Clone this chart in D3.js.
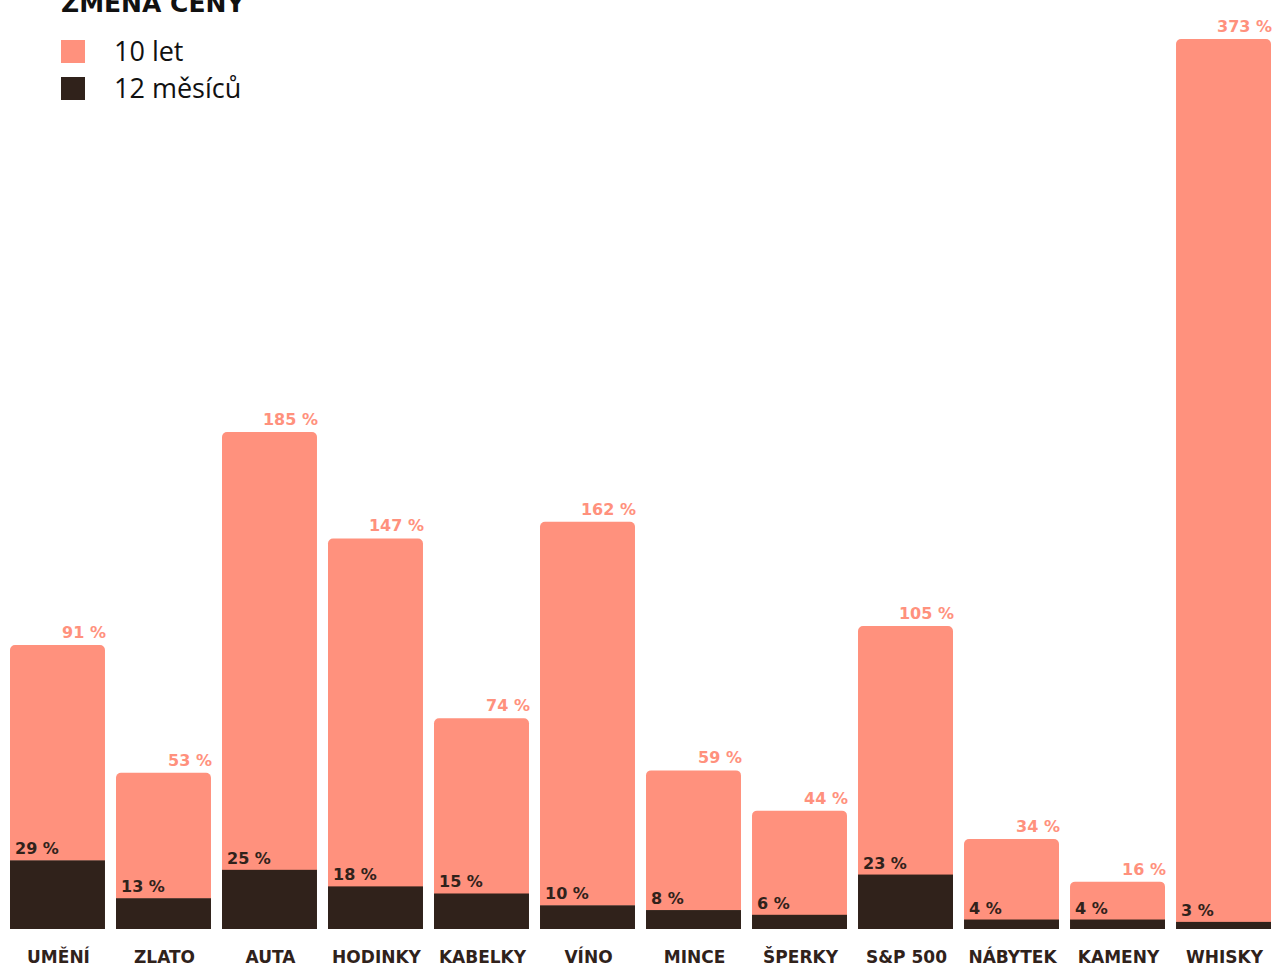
<!DOCTYPE html>
<html><head><meta charset="utf-8">
<script src="https://cdn.jsdelivr.net/npm/d3@7"></script>
<style>
html,body{margin:0;padding:0;background:#fff;}
svg{display:block;font-family:"DejaVu Sans","Open Sans",sans-serif;}
</style></head>
<body>
<svg id="chart" width="1273" height="966"></svg>
<script>
const categories = ["UMĚNÍ","ZLATO","AUTA","HODINKY","KABELKY","VÍNO","MINCE","ŠPERKY","S&P 500","NÁBYTEK","KAMENY","WHISKY"];
const tenYears = [91,53,185,147,74,162,59,44,105,34,16,373];
const twelveMonths = [29,13,25,18,15,10,8,6,23,4,4,3];
const seriesNames = ["10 let","12 měsíců"];
const title = "ZMĚNA CENY";

const colOrange = "#FF917D";
const colDark = "#30221B";
const boldFont = '"DejaVu Sans",sans-serif';

const svg = d3.select("#chart");
const data = categories.map((c,i)=>({cat:c, y10:tenYears[i], m12:twelveMonths[i]}));

const x = d3.scaleBand().domain(categories).range([10,1271]).paddingInner(0.104).paddingOuter(0);
const y = d3.scaleLinear().domain([0, d3.max(data, d=>d.y10+d.m12)]).range([929, 39]);
const bw = x.bandwidth();
const r = 5;

function topRounded(x0, y0, w, h, rr){
  const p = d3.path();
  p.moveTo(x0, y0+h);
  p.lineTo(x0, y0+rr);
  p.arcTo(x0, y0, x0+rr, y0, rr);
  p.lineTo(x0+w-rr, y0);
  p.arcTo(x0+w, y0, x0+w, y0+rr, rr);
  p.lineTo(x0+w, y0+h);
  p.closePath();
  return p.toString();
}

const g = svg.append("g");
g.selectAll("path.ten").data(data).join("path")
  .attr("class","ten")
  .attr("fill", colOrange)
  .attr("d", d=>{
    const top = y(d.y10+d.m12), bot = y(d.m12);
    return topRounded(x(d.cat), top, bw, bot-top+0.5, r);
  });
g.selectAll("rect.twelve").data(data).join("rect")
  .attr("class","twelve")
  .attr("fill", colDark)
  .attr("x", d=>x(d.cat)).attr("width", bw)
  .attr("y", d=>y(d.m12)).attr("height", d=>y(0)-y(d.m12));

g.selectAll("text.lab10").data(data).join("text")
  .attr("class","lab10")
  .attr("x", d=>x(d.cat)+bw+1)
  .attr("y", d=>y(d.y10+d.m12)-7)
  .attr("text-anchor","end")
  .attr("fill", colOrange)
  .attr("font-family", boldFont)
  .attr("font-weight",700).attr("font-size",16)
  .text(d=>d.y10+" %");
g.selectAll("text.lab12").data(data).join("text")
  .attr("class","lab12")
  .attr("x", d=>x(d.cat)+5)
  .attr("y", d=>y(d.m12)-6)
  .attr("fill", colDark)
  .attr("font-family", boldFont)
  .attr("font-weight",700).attr("font-size",16)
  .text(d=>d.m12+" %");

const xAxis = d3.axisBottom(x).tickSize(0).tickPadding(0);
const ax = svg.append("g").attr("transform","translate(0,929)").call(xAxis);
ax.select(".domain").remove();
ax.selectAll("text")
  .attr("y", 34).attr("dy", null)
  .attr("x", 1)
  .attr("fill", colDark)
  .attr("font-family", boldFont)
  .attr("font-weight",700).attr("font-size",17);

svg.append("text").attr("x",61).attr("y",12)
  .attr("fill","#111").attr("font-family", boldFont).attr("font-weight",700).attr("font-size",25)
  .text(title);

const leg = svg.append("g");
const legColors = [colOrange, colDark];
seriesNames.forEach((s,i)=>{
  leg.append("rect").attr("x",61).attr("y",40+i*37).attr("width",24).attr("height",23).attr("fill",legColors[i]);
  leg.append("text").attr("x",114).attr("y",61+i*37)
    .attr("font-family",'"Open Sans",sans-serif').attr("font-size",27).attr("font-weight",400).attr("fill","#111").text(s);
});
</script>
</body></html>
